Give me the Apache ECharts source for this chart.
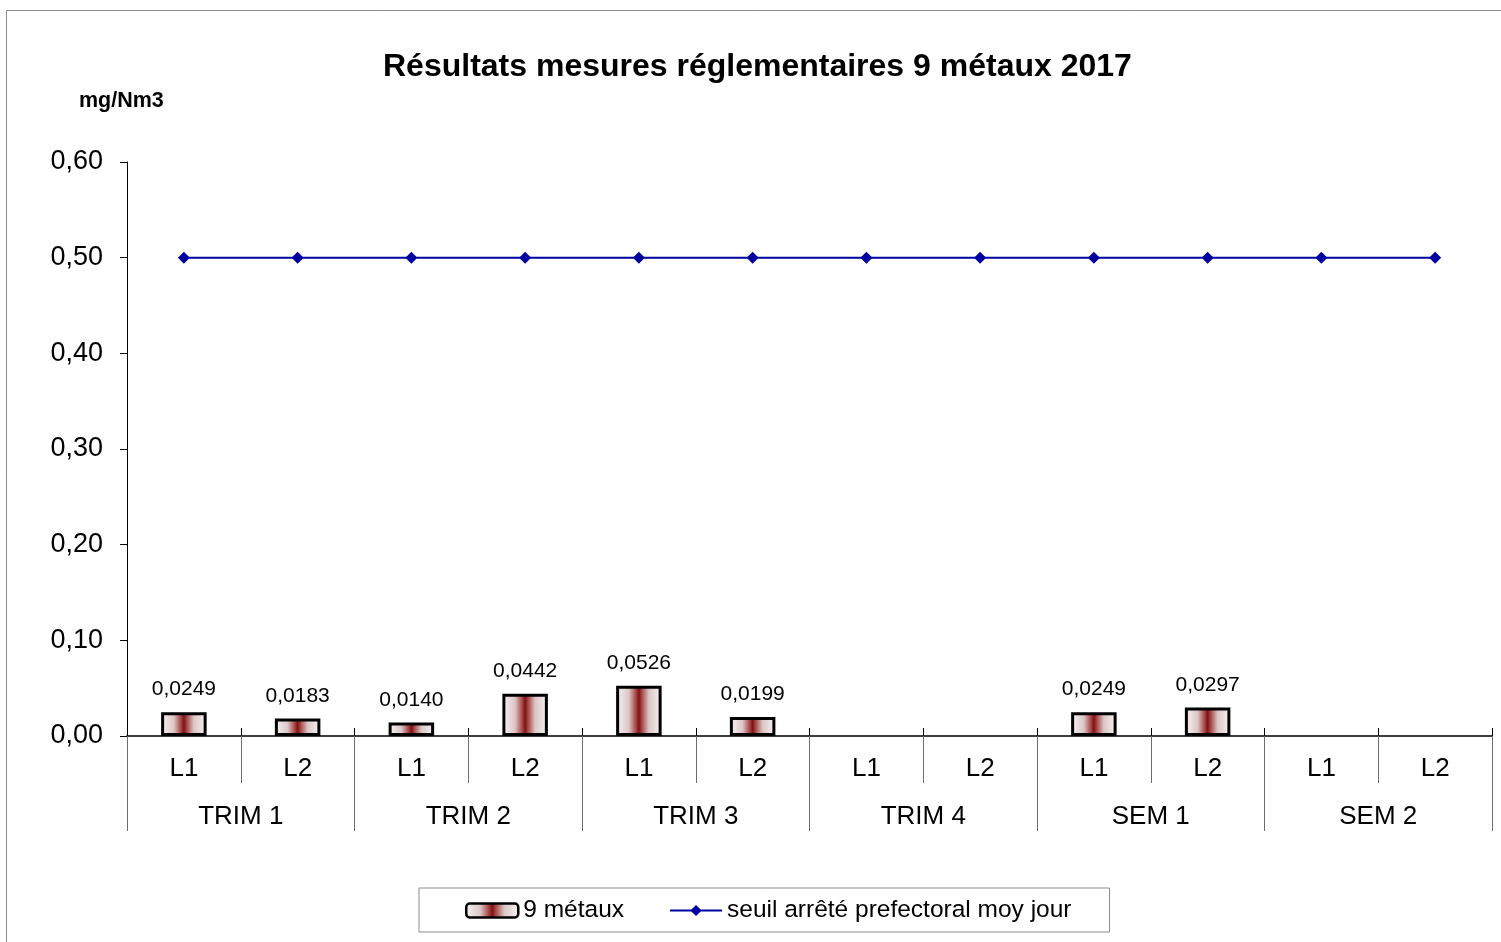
<!DOCTYPE html>
<html>
<head>
<meta charset="utf-8">
<script src="https://cdn.jsdelivr.net/npm/echarts@6/dist/echarts.min.js"></script>
<style>
  html, body { margin: 0; padding: 0; background: #fff; }
  #chart { width: 1501px; height: 942px; }
</style>
</head>
<body>
<div id="chart"></div>
<script>
// Measurement points: line (L1/L2) inside each period
const lines = ['L1', 'L2', 'L1', 'L2', 'L1', 'L2', 'L1', 'L2', 'L1', 'L2', 'L1', 'L2'];
// Reporting periods, two lines each
const periods = ['TRIM 1', 'TRIM 2', 'TRIM 3', 'TRIM 4', 'SEM 1', 'SEM 2'];
// 9 metals concentration (mg/Nm3); null = no measurement
const metaux = [0.0249, 0.0183, 0.0140, 0.0442, 0.0526, 0.0199, null, null, 0.0249, 0.0297, null, null];
// Prefectoral daily-average threshold
const seuil = [0.50, 0.50, 0.50, 0.50, 0.50, 0.50, 0.50, 0.50, 0.50, 0.50, 0.50, 0.50];
// Y-axis ticks
const yTicks = [0, 0.1, 0.2, 0.3, 0.4, 0.5, 0.6];

const FONT = '"Liberation Sans", Arial, sans-serif';
const fr = (v, d) => v.toFixed(d).replace('.', ',');

const chart = echarts.init(document.getElementById('chart'), null, { renderer: 'canvas' });

// white edges, dark red core
const barFill = {
  type: 'linear', x: 0, y: 0, x2: 1, y2: 0,
  colorStops: [
    { offset: 0, color: '#f8f5f5' },
    { offset: 0.28, color: '#dcc6c6' },
    { offset: 0.43, color: '#a84a4a' },
    { offset: 0.5, color: '#7f1212' },
    { offset: 0.57, color: '#a84a4a' },
    { offset: 0.72, color: '#dcc6c6' },
    { offset: 1, color: '#f8f5f5' }
  ]
};

chart.setOption({
  animation: false,
  backgroundColor: '#ffffff',
  textStyle: { fontFamily: FONT },
  graphic: [{
    type: 'rect',
    shape: { x: 6.5, y: 10.5, width: 1520, height: 960 },
    style: { fill: 'none', stroke: '#8c8c8c', lineWidth: 1 },
    silent: true, z: -10
  }, {
    type: 'text',
    left: 79, top: 90,
    style: { text: 'mg/Nm3', font: 'bold 21.5px ' + FONT, fill: '#000' }
  }],
  title: {
    text: 'Résultats mesures réglementaires 9 métaux 2017',
    left: 383, top: 51, padding: 0,
    textStyle: { fontFamily: FONT, fontSize: 32, fontWeight: 'bold', color: '#000' }
  },
  legend: {
    left: 419, top: 888,
    padding: [10, 38, 9, 46],
    itemGap: 45,
    itemWidth: 52, itemHeight: 14,
    borderColor: '#8c8c8c', borderWidth: 1,
    textStyle: { fontFamily: FONT, fontSize: 24.5, color: '#000' },
    data: [
      { name: '9 métaux', itemStyle: { color: barFill, borderColor: '#000', borderWidth: 2.5 } },
      { name: 'seuil arrêté prefectoral moy jour' }
    ]
  },
  grid: { left: 127, right: 9, top: 162, bottom: 206, containLabel: false },
  xAxis: [{
    type: 'category', data: lines, position: 'bottom',
    axisLine: { show: true, lineStyle: { color: '#000', width: 1.5 } },
    axisTick: { show: true, length: 47, lineStyle: { color: '#6e6e6e', width: 1 } },
    axisLabel: { fontFamily: FONT, fontSize: 26, color: '#000', margin: 20, interval: 0 }
  }, {
    type: 'category', data: periods, position: 'bottom',
    axisLine: { show: false },
    axisTick: { show: true, length: 95, lineStyle: { color: '#6e6e6e', width: 1 } },
    axisLabel: { fontFamily: FONT, fontSize: 26, color: '#000', margin: 68, interval: 0 }
  }, {
    type: 'category', data: lines, position: 'bottom',
    axisLine: { show: false },
    axisTick: { show: true, inside: true, length: 8, lineStyle: { color: '#000', width: 1 } },
    axisLabel: { show: false }
  }],
  yAxis: {
    type: 'value', min: yTicks[0], max: yTicks[yTicks.length - 1], interval: 0.1,
    axisLine: { show: true, lineStyle: { color: '#000', width: 1 } },
    axisTick: { show: true, length: 7, lineStyle: { color: '#000' } },
    splitLine: { show: false },
    axisLabel: { fontFamily: FONT, fontSize: 27, color: '#000', margin: 24, formatter: v => fr(v, 2) }
  },
  series: [{
    name: '9 métaux', type: 'bar', data: metaux, xAxisIndex: 0,
    barWidth: '40%',
    itemStyle: { color: barFill, borderColor: '#000', borderWidth: 3 },
    label: {
      show: true, position: 'top', distance: 12,
      fontFamily: FONT, fontSize: 21, color: '#000',
      formatter: p => fr(p.value, 4)
    },
    z: 2
  }, {
    name: 'seuil arrêté prefectoral moy jour', type: 'line', data: seuil, xAxisIndex: 0,
    symbol: 'diamond', symbolSize: 12,
    lineStyle: { color: '#0000a0', width: 2 },
    itemStyle: { color: '#0000a0' },
    z: 3
  }]
});
</script>
</body>
</html>
